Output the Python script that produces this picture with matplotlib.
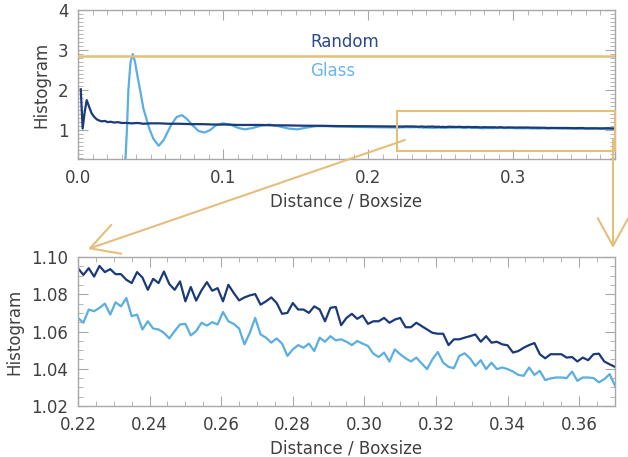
import numpy as np
import matplotlib
matplotlib.use("Agg")
import matplotlib.pyplot as plt
from matplotlib.patches import Rectangle, FancyArrowPatch
from matplotlib.ticker import MultipleLocator, FormatStrFormatter

# ---- data ----
# full range, small separations (top panel only)
random_near_x = [0.0019, 0.0032, 0.0046, 0.0060, 0.0077, 0.0094, 0.0112, 0.0129,
                 0.0146, 0.0163, 0.0185, 0.0205, 0.0225, 0.0250, 0.0275, 0.0300,
                 0.0336, 0.0370, 0.0410, 0.0450, 0.0500, 0.0566, 0.0620, 0.0700,
                 0.0780, 0.0860, 0.0940, 0.1020, 0.1100, 0.1180, 0.1260, 0.1340,
                 0.1420, 0.1500, 0.1580, 0.1660, 0.1740, 0.1820, 0.1900, 0.1980,
                 0.2060, 0.2140]
random_near = [2.02, 1.04, 1.45, 1.75, 1.58, 1.42, 1.33, 1.27, 1.24, 1.22, 1.23,
               1.20, 1.21, 1.19, 1.20, 1.18, 1.18, 1.17, 1.18, 1.16, 1.17, 1.17,
               1.16, 1.16, 1.15, 1.15, 1.14, 1.14, 1.13, 1.13, 1.13, 1.12, 1.12,
               1.115, 1.11, 1.11, 1.105, 1.10, 1.10, 1.098, 1.096, 1.095]

glass_near_x = [0.0300, 0.0327, 0.0337, 0.0347, 0.0362, 0.0377, 0.0392, 0.0410,
                0.0428, 0.0450, 0.0490, 0.0520, 0.0556, 0.0590, 0.0640, 0.0680,
                0.0717, 0.0750, 0.0790, 0.0830, 0.0870, 0.0910, 0.0950, 0.0998,
                0.1050, 0.1100, 0.1147, 0.1200, 0.1260, 0.1320, 0.1380, 0.1450,
                0.1510, 0.1570, 0.1640, 0.1710, 0.1780, 0.1850, 0.1920, 0.2000,
                0.2080, 0.2150]
glass_near = [0.00, 0.28, 1.00, 2.00, 2.70, 2.90, 2.72, 2.35, 2.00, 1.55, 1.05,
              0.78, 0.61, 0.75, 1.12, 1.33, 1.375, 1.28, 1.12, 0.98, 0.94, 1.00,
              1.12, 1.17, 1.14, 1.06, 1.02, 1.05, 1.11, 1.14, 1.10, 1.04, 1.02,
              1.06, 1.10, 1.10, 1.09, 1.09, 1.08, 1.075, 1.072, 1.068]

# zoomed range 0.22 - 0.37 (101 bins)
random_zoom = [1.0940, 1.0904, 1.0940, 1.0895, 1.0952, 1.0919, 1.0935, 1.0908, 1.0908,
               1.0878, 1.0860, 1.0919, 1.0890, 1.0824, 1.0883, 1.0860, 1.0922, 1.0855,
               1.0824, 1.0869, 1.0762, 1.0839, 1.0766, 1.0821, 1.0865, 1.0819, 1.0833,
               1.0762, 1.0851, 1.0807, 1.0767, 1.0783, 1.0794, 1.0801, 1.0744, 1.0762,
               1.0783, 1.0753, 1.0695, 1.0700, 1.0753, 1.0718, 1.0718, 1.0700, 1.0735,
               1.0718, 1.0655, 1.0727, 1.0732, 1.0634, 1.0673, 1.0695,
               1.0668, 1.0686, 1.0641, 1.0655, 1.0655, 1.0673, 1.0647, 1.0664, 1.0673,
               1.0623, 1.0623, 1.0647, 1.0629, 1.0611, 1.0593, 1.0588, 1.0588, 1.0527,
               1.0558, 1.0558, 1.0567, 1.0575, 1.0584, 1.0545, 1.0575,
               1.0540, 1.0545, 1.0531, 1.0526, 1.0487, 1.0495, 1.0513, 1.0527, 1.0538,
               1.0478, 1.0456, 1.0478, 1.0478, 1.0478, 1.0460, 1.0463, 1.0439, 1.0460,
               1.0446, 1.0478, 1.0481, 1.0439, 1.0424, 1.0410]
glass_zoom = [1.0673, 1.0647, 1.0718, 1.0709, 1.0727, 1.0750, 1.0691, 1.0757, 1.0735,
              1.0780, 1.0682, 1.0691, 1.0611, 1.0655, 1.0616, 1.0611, 1.0593, 1.0563,
              1.0602, 1.0638, 1.0641, 1.0579, 1.0602, 1.0647, 1.0632, 1.0650, 1.0638,
              1.0705, 1.0655, 1.0641, 1.0616, 1.0531, 1.0593, 1.0673, 1.0584, 1.0567,
              1.0540, 1.0563, 1.0535, 1.0469, 1.0504, 1.0527, 1.0513, 1.0535, 1.0495,
              1.0567, 1.0545, 1.0575, 1.0552, 1.0558, 1.0545, 1.0527,
              1.0549, 1.0535, 1.0522, 1.0481, 1.0463, 1.0487, 1.0439, 1.0504, 1.0478,
              1.0456, 1.0439, 1.0460, 1.0428, 1.0398, 1.0451, 1.0490, 1.0433, 1.0410,
              1.0403, 1.0469, 1.0483, 1.0456, 1.0415, 1.0446, 1.0398,
              1.0433, 1.0398, 1.0407, 1.0398, 1.0385, 1.0367, 1.0362, 1.0407, 1.0367,
              1.0389, 1.0339, 1.0348, 1.0353, 1.0353, 1.0350, 1.0385, 1.0335, 1.0353,
              1.0353, 1.0350, 1.0327, 1.0344, 1.0371, 1.0309]
zoom_x = np.linspace(0.22, 0.37, len(random_zoom))

DARK = "#1b3a78"
LIGHT = "#5aaee0"
GOLD = "#e4bf7c"
GREY = "#a8a8a8"
TXT = "#404040"
FS = 12

plt.rcParams["font.family"] = ["DejaVu Sans"]
plt.rcParams["font.size"] = FS


def style_axes(ax, xmaj, xmin, ymaj, ymin, xfmt, yfmt, ylab_x):
    for s in ax.spines.values():
        s.set_color(GREY)
        s.set_linewidth(1.0)
    ax.xaxis.set_major_locator(MultipleLocator(xmaj))
    ax.xaxis.set_minor_locator(MultipleLocator(xmin))
    ax.yaxis.set_major_locator(MultipleLocator(ymaj))
    ax.yaxis.set_minor_locator(MultipleLocator(ymin))
    ax.xaxis.set_major_formatter(FormatStrFormatter(xfmt))
    ax.yaxis.set_major_formatter(FormatStrFormatter(yfmt))
    ax.tick_params(which="both", direction="in", top=True, right=True,
                   color=GREY, labelcolor=TXT, labelsize=FS)
    ax.tick_params(which="major", length=7, width=0.8, pad=7)
    ax.tick_params(which="minor", length=3.5, width=0.6)
    ax.set_xlabel("Distance / Boxsize", color=TXT, fontsize=FS, labelpad=4)
    ax.set_ylabel("Histogram", color=TXT, fontsize=FS)
    ax.yaxis.set_label_coords(ylab_x, 0.5)


fig = plt.figure(figsize=(6.28, 4.57), dpi=100)

# top panel: full range
ax1 = fig.add_axes([0.1242, 0.6521, 0.8551, 0.326])
ax1.plot(np.concatenate([glass_near_x, zoom_x]), np.concatenate([glass_near, glass_zoom]),
         color=LIGHT, lw=1.6)
ax1.plot(np.concatenate([random_near_x, zoom_x]), np.concatenate([random_near, random_zoom]),
         color=DARK, lw=1.6)
ax1.set_xlim(0, 0.37)
ax1.set_ylim(0.28, 4.0)
style_axes(ax1, 0.1, 0.01, 1, 0.1, "%.1f", "%d", -0.052)
ax1.axhline(2.85, color=GOLD, lw=1.8, zorder=5)
ax1.add_patch(Rectangle((0.22, 0.475), 0.15, 1.0, fill=False, edgecolor=GOLD,
                        lw=1.5, clip_on=False, zorder=6))
ax1.text(0.432, 0.785, "Random", transform=ax1.transAxes, color="#2a4a88",
         fontsize=FS, va="center", ha="left")
ax1.text(0.432, 0.591, "Glass", transform=ax1.transAxes, color="#6ab6e6",
         fontsize=FS, va="center", ha="left")

# bottom panel: zoom
ax2 = fig.add_axes([0.1242, 0.1116, 0.8551, 0.326])
ax2.plot(zoom_x, random_zoom, color=DARK, lw=1.6)
ax2.plot(zoom_x, glass_zoom, color=LIGHT, lw=1.6)
ax2.set_xlim(0.22, 0.37)
ax2.set_ylim(1.02, 1.10)
style_axes(ax2, 0.02, 0.005, 0.02, 0.005, "%.2f", "%.2f", -0.102)

# connecting arrows (figure coordinates)
arrow_kw = dict(transform=fig.transFigure, arrowstyle="->,head_length=1.0,head_width=0.55",
                mutation_scale=20, color=GOLD, lw=1.5, shrinkA=0, shrinkB=0)
fig.add_artist(FancyArrowPatch((0.6449, 0.6937), (0.1401, 0.4551), **arrow_kw))
fig.add_artist(FancyArrowPatch((0.9761, 0.6937), (0.9761, 0.4573), **arrow_kw))

fig.savefig("out.png", dpi=100)
